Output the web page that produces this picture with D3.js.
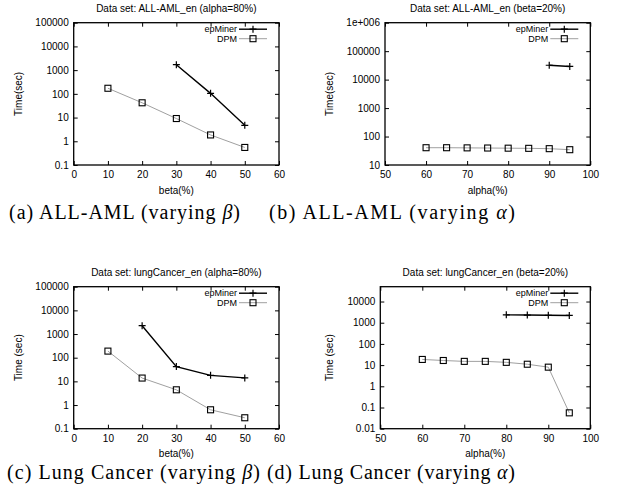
<!DOCTYPE html>
<html>
<head>
<meta charset="utf-8">
<script src="https://cdn.jsdelivr.net/npm/d3@7"></script>
<style>
  body { margin: 0; background: #fff; }
  svg { display: block; }
  .tick text { font-family: "Liberation Sans", Arial, sans-serif; font-size: 10px; fill: #000; }
</style>
</head>
<body>
<script>
// ---- data ----
const seriesNames = ["epMiner", "DPM"];

const betaTicks = [0, 10, 20, 30, 40, 50, 60];
const alphaTicks = [50, 60, 70, 80, 90, 100];

const yTicksA = [0.1, 1, 10, 100, 1000, 10000, 100000];
const yLabelsA = ["0.1", "1", "10", "100", "1000", "10000", "100000"];
const yTicksB = [10, 100, 1000, 10000, 100000, 1000000];
const yLabelsB = ["10", "100", "1000", "10000", "100000", "1e+006"];
const yTicksD = [0.01, 0.1, 1, 10, 100, 1000, 10000];
const yLabelsD = ["0.01", "0.1", "1", "10", "100", "1000", "10000"];

// (a) ALL-AML, alpha=80%, varying beta
const aEpX = [30, 40, 50];
const aEpY = [1700, 105, 4.7];
const aDpmX = [10, 20, 30, 40, 50];
const aDpmY = [172, 42, 9.1, 1.85, 0.55];

// (b) ALL-AML, beta=20%, varying alpha
const bEpX = [90, 95];
const bEpY = [32000, 29000];
const bDpmX = [60, 65, 70, 75, 80, 85, 90, 95];
const bDpmY = [40.5, 40.5, 40, 39.5, 39, 38.5, 37.5, 34.5];

// (c) lungCancer, alpha=80%, varying beta
const cEpX = [20, 30, 40, 50];
const cEpY = [2250, 42, 18, 14];
const cDpmX = [10, 20, 30, 40, 50];
const cDpmY = [190, 13.8, 4.4, 0.63, 0.29];

// (d) lungCancer, beta=20%, varying alpha
const dEpX = [80, 85, 90, 95];
const dEpY = [2350, 2300, 2250, 2200];
const dDpmX = [60, 65, 70, 75, 80, 85, 90, 95];
const dDpmY = [18.5, 16.5, 15, 15, 13.5, 11, 8, 0.056];

const titles = [
  "Data set: ALL-AML_en (alpha=80%)",
  "Data set: ALL-AML_en (beta=20%)",
  "Data set: lungCancer_en (alpha=80%)",
  "Data set: lungCancer_en (beta=20%)"
];
const captions = [
  ["(a) ALL-AML (varying ", "β", ")"],
  ["(b) ALL-AML (varying ", "α", ")"],
  ["(c) Lung Cancer (varying ", "β", ")"],
  ["(d) Lung Cancer (varying ", "α", ")"]
];

// ---- drawing ----
const W = 623, H = 494;
const svg = d3.select("body").append("svg")
  .attr("width", W).attr("height", H);

const sans = '"Liberation Sans", Arial, sans-serif';

function drawPanel(p) {
  const x = d3.scaleLinear().domain(p.xDomain).range([p.left, p.right]);
  const y = d3.scaleLog().domain(p.yDomain).range([p.bottom, p.top]);
  const g = svg.append("g");

  const fmtY = (d) => p.yLabels[p.yTicks.indexOf(d)];

  g.append("g").attr("transform", `translate(0,${p.bottom})`)
    .call(d3.axisBottom(x).tickValues(p.xTicks).tickSize(-4).tickSizeOuter(0).tickPadding(6));
  g.append("g").attr("transform", `translate(0,${p.top})`)
    .call(d3.axisTop(x).tickValues(p.xTicks).tickSize(-4).tickSizeOuter(0).tickFormat(""));
  g.append("g").attr("transform", `translate(${p.left},0)`)
    .call(d3.axisLeft(y).tickValues(p.yTicks).tickSize(-4).tickSizeOuter(0).tickPadding(5).tickFormat(fmtY));
  g.append("g").attr("transform", `translate(${p.right},0)`)
    .call(d3.axisRight(y).tickValues(p.yTicks).tickSize(-4).tickSizeOuter(0).tickFormat(""));

  g.selectAll(".domain").remove();
  g.selectAll(".tick line").attr("stroke", "#000").attr("stroke-width", 1);

  g.append("rect")
    .attr("x", p.left).attr("y", p.top)
    .attr("width", p.right - p.left).attr("height", p.bottom - p.top)
    .attr("fill", "none").attr("stroke", "#000").attr("stroke-width", 1.3);

  // title and axis labels
  g.append("text")
    .attr("x", (p.left + p.right) / 2).attr("y", p.top - 11)
    .attr("text-anchor", "middle")
    .style("font-family", sans).style("font-size", "10px")
    .text(p.title);
  g.append("text")
    .attr("x", (p.left + p.right) / 2).attr("y", p.bottom + 28.5)
    .attr("text-anchor", "middle")
    .style("font-family", sans).style("font-size", "10px")
    .text(p.xLabel);
  g.append("text")
    .attr("transform", `translate(${p.ylabelX},${(p.top + p.bottom) / 2}) rotate(-90)`)
    .attr("text-anchor", "middle").attr("dy", "0.35em")
    .style("font-family", sans).style("font-size", "10px")
    .text(p.yLabel);

  const line = d3.line().x(d => x(d[0])).y(d => y(d[1]));
  const ep = d3.zip(p.epX, p.epY);
  const dpm = d3.zip(p.dpmX, p.dpmY);

  g.append("path").datum(dpm).attr("d", line)
    .attr("fill", "none").attr("stroke", "#a0a0a0").attr("stroke-width", 1);
  g.append("path").datum(ep).attr("d", line)
    .attr("fill", "none").attr("stroke", "#000").attr("stroke-width", 1.4);

  function plus(sel, cx, cy) {
    sel.append("path")
      .attr("d", `M${cx - 3.5},${cy}H${cx + 3.5}M${cx},${cy - 3.5}V${cy + 3.5}`)
      .attr("stroke", "#000").attr("stroke-width", 1.2);
  }
  function box(sel, cx, cy) {
    sel.append("rect")
      .attr("x", cx - 3).attr("y", cy - 3).attr("width", 6).attr("height", 6)
      .attr("fill", "none").attr("stroke", "#000").attr("stroke-width", 1.1);
  }
  dpm.forEach(d => box(g, x(d[0]), y(d[1])));
  ep.forEach(d => plus(g, x(d[0]), y(d[1])));

  // legend
  const lx = p.right - 42, ly1 = p.top + 6.5, ly2 = p.top + 16;
  g.append("text").attr("x", lx).attr("y", ly1).attr("dy", "0.35em")
    .attr("text-anchor", "end")
    .style("font-family", sans).style("font-size", "9px").text(seriesNames[0]);
  g.append("text").attr("x", lx).attr("y", ly2).attr("dy", "0.35em")
    .attr("text-anchor", "end")
    .style("font-family", sans).style("font-size", "9px").text(seriesNames[1]);
  g.append("line").attr("x1", p.right - 40).attr("x2", p.right - 12)
    .attr("y1", ly1).attr("y2", ly1).attr("stroke", "#000").attr("stroke-width", 1.4);
  plus(g, p.right - 26, ly1);
  g.append("line").attr("x1", p.right - 40).attr("x2", p.right - 12)
    .attr("y1", ly2).attr("y2", ly2).attr("stroke", "#a0a0a0").attr("stroke-width", 1);
  box(g, p.right - 26, ly2);
}

drawPanel({
  left: 73.7, right: 279, top: 22.7, bottom: 165,
  xDomain: [0, 60], xTicks: betaTicks,
  yDomain: [0.1, 100000], yTicks: yTicksA, yLabels: yLabelsA,
  title: titles[0], xLabel: "beta(%)", yLabel: "Time(sec)", ylabelX: 18,
  epX: aEpX, epY: aEpY, dpmX: aDpmX, dpmY: aDpmY
});
drawPanel({
  left: 385, right: 590.3, top: 22.7, bottom: 165,
  xDomain: [50, 100], xTicks: alphaTicks,
  yDomain: [10, 1000000], yTicks: yTicksB, yLabels: yLabelsB,
  title: titles[1], xLabel: "alpha(%)", yLabel: "Time(sec)", ylabelX: 329,
  epX: bEpX, epY: bEpY, dpmX: bDpmX, dpmY: bDpmY
});
drawPanel({
  left: 73.7, right: 279, top: 286.7, bottom: 428.7,
  xDomain: [0, 60], xTicks: betaTicks,
  yDomain: [0.1, 100000], yTicks: yTicksA, yLabels: yLabelsA,
  title: titles[2], xLabel: "beta(%)", yLabel: "Time (sec)", ylabelX: 18,
  epX: cEpX, epY: cEpY, dpmX: cDpmX, dpmY: cDpmY
});
drawPanel({
  left: 380.3, right: 590.3, top: 286.7, bottom: 428.7,
  xDomain: [50, 100], xTicks: alphaTicks,
  yDomain: [0.01, 50000], yTicks: yTicksD, yLabels: yLabelsD,
  title: titles[3], xLabel: "alpha(%)", yLabel: "Time (sec)", ylabelX: 329,
  epX: dEpX, epY: dEpY, dpmX: dDpmX, dpmY: dDpmY
});

// subfigure captions
const capPos = [[9, 219, 231], [269, 219, 246], [7, 479, 253], [267, 479, 248]];
captions.forEach((c, i) => {
  const t = svg.append("text")
    .attr("x", capPos[i][0]).attr("y", capPos[i][1])
    .attr("textLength", capPos[i][2]).attr("lengthAdjust", "spacing")
    .style("font-family", '"Liberation Serif", "Times New Roman", serif')
    .style("font-size", "20px");
  t.append("tspan").text(c[0]);
  t.append("tspan").style("font-style", "italic").text(c[1]);
  t.append("tspan").text(c[2]);
});
</script>
</body>
</html>
